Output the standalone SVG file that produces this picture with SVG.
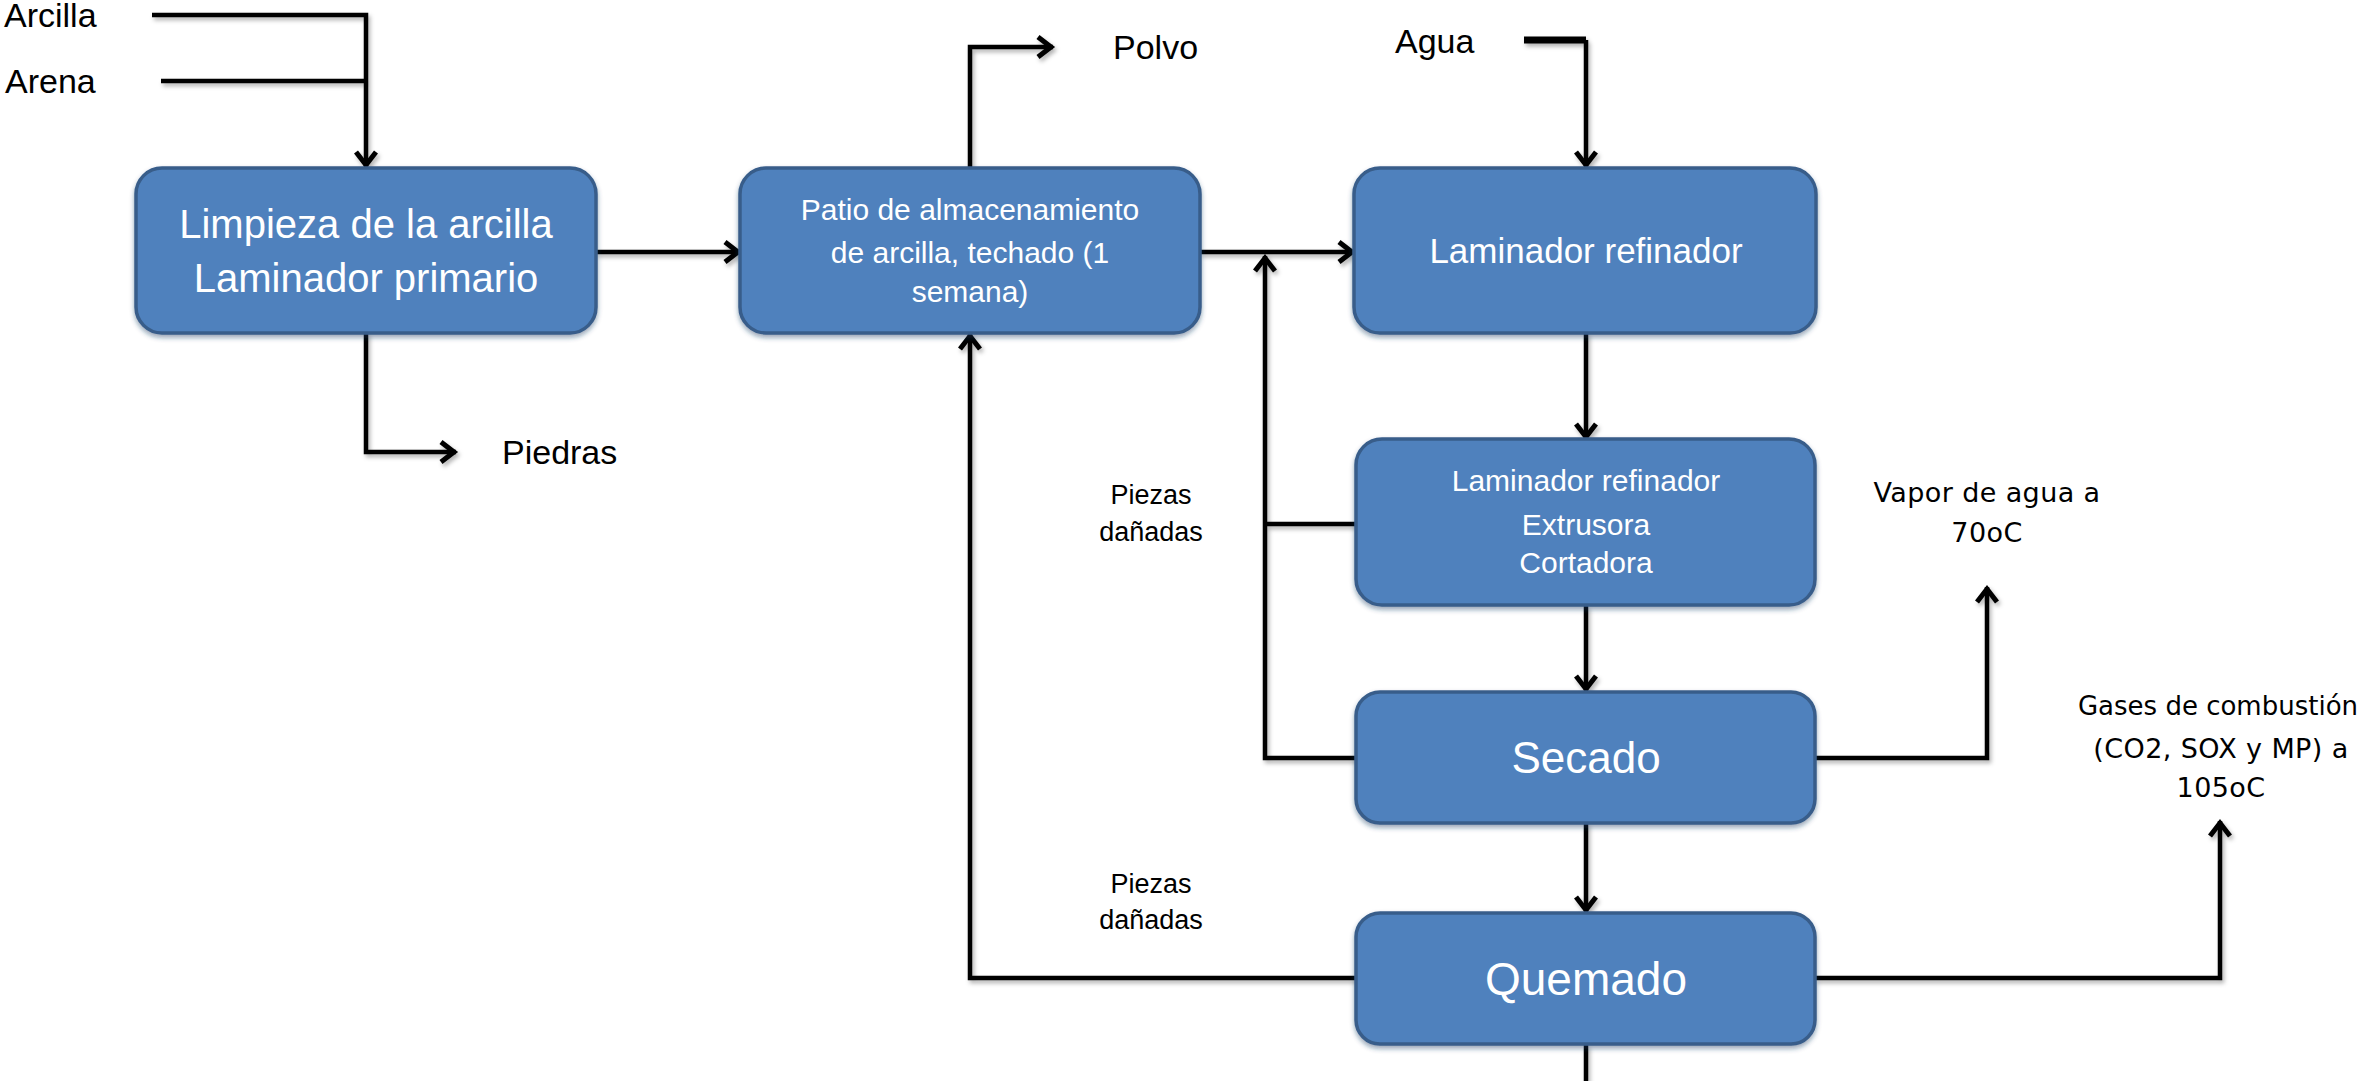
<svg xmlns="http://www.w3.org/2000/svg" width="2366" height="1081" viewBox="0 0 2366 1081">
<defs>
<style>
.box{fill:#4f81bd;stroke:#385d8a;stroke-width:3.5}
.bt{fill:#fff;font-family:"Liberation Sans",Arial,sans-serif;text-anchor:middle}
.lbl{fill:#000;font-family:"Liberation Sans",Arial,sans-serif;font-size:34px}
.lbs{fill:#000;font-family:"Liberation Sans",Arial,sans-serif;font-size:27px;text-anchor:middle}
.lbv{fill:#000;font-family:"DejaVu Sans",Verdana,sans-serif;font-size:27px;letter-spacing:0.4px;text-anchor:middle}
.ln{fill:none;stroke:#000;stroke-width:4.5;stroke-linejoin:miter}
.ar{marker-end:url(#arr)}
</style>
<marker id="arr" viewBox="0 0 24 24" refX="20" refY="12" markerWidth="24" markerHeight="24" orient="auto" markerUnits="userSpaceOnUse">
<path d="M5,2 L18,12 L5,22" fill="none" stroke="#000" stroke-width="5"/>
</marker>
<filter id="sh" x="-10%" y="-10%" width="120%" height="130%">
<feDropShadow dx="2" dy="3" stdDeviation="2" flood-color="#000" flood-opacity="0.3"/>
</filter>
<filter id="shb" x="-5%" y="-10%" width="110%" height="125%">
<feDropShadow dx="0" dy="3" stdDeviation="2.5" flood-color="#1f3a60" flood-opacity="0.45"/>
</filter>
</defs>
<rect width="2366" height="1081" fill="#fff"/>

<g id="connectors" filter="url(#sh)">
<path class="ln ar" d="M152,15 H366 V167"/>
<path class="ln" d="M161,81 H366"/>
<path class="ln ar" d="M596,252 H740"/>
<path class="ln ar" d="M366,333 V452 H456"/>
<path class="ln ar" d="M970,167 V47 H1053"/>
<path class="ln ar" d="M1200,252 H1354"/>
<path class="ln" d="M1524,40 H1586" style="stroke-width:7"/>
<path class="ln ar" d="M1586,40 V167"/>
<path class="ln ar" d="M1586,333 V439"/>
<path class="ln" d="M1356,524 H1265"/>
<path class="ln ar" d="M1356,758 H1265 V256"/>
<path class="ln ar" d="M1586,606 V691"/>
<path class="ln ar" d="M1586,823 V912"/>
<path class="ln" d="M1586,1045 V1081"/>
<path class="ln ar" d="M1356,978 H970 V334"/>
<path class="ln ar" d="M1815,758 H1987 V587"/>
<path class="ln ar" d="M1815,978 H2220 V821"/>
</g>

<g id="labels">
<text class="lbl" x="4" y="27">Arcilla</text>
<text class="lbl" x="5" y="93">Arena</text>
<text class="lbl" x="502" y="464">Piedras</text>
<text class="lbl" x="1113" y="59">Polvo</text>
<text class="lbl" x="1395" y="53">Agua</text>
<text class="lbs" x="1151" y="504">Piezas</text>
<text class="lbs" x="1151" y="541">dañadas</text>
<text class="lbs" x="1151" y="893">Piezas</text>
<text class="lbs" x="1151" y="929">dañadas</text>
<text class="lbv" x="1987" y="502">Vapor de agua a</text>
<text class="lbv" x="1987" y="542">70oC</text>
<text class="lbv" x="2218" y="715" style="font-size:26px;letter-spacing:0">Gases de combustión</text>
<text class="lbv" x="2221" y="758">(CO2, SOX y MP) a</text>
<text class="lbv" x="2221" y="797">105oC</text>
</g>

<g id="n1">
<rect class="box" x="136" y="168" width="460" height="165" rx="26" filter="url(#shb)"/>
<text class="bt" x="366" y="238" font-size="40">Limpieza de la arcilla</text>
<text class="bt" x="366" y="292" font-size="40">Laminador primario</text>
</g>
<g id="n2">
<rect class="box" x="740" y="168" width="460" height="165" rx="26" filter="url(#shb)"/>
<text class="bt" x="970" y="220" font-size="30">Patio de almacenamiento</text>
<text class="bt" x="970" y="263" font-size="30">de arcilla, techado (1</text>
<text class="bt" x="970" y="302" font-size="30">semana)</text>
</g>
<g id="n3">
<rect class="box" x="1354" y="168" width="462" height="165" rx="26" filter="url(#shb)"/>
<text class="bt" x="1586" y="263" font-size="35">Laminador refinador</text>
</g>
<g id="n4">
<rect class="box" x="1356" y="439" width="459" height="166" rx="26" filter="url(#shb)"/>
<text class="bt" x="1586" y="491" font-size="30">Laminador refinador</text>
<text class="bt" x="1586" y="535" font-size="30">Extrusora</text>
<text class="bt" x="1586" y="573" font-size="30">Cortadora</text>
</g>
<g id="n5">
<rect class="box" x="1356" y="692" width="459" height="131" rx="24" filter="url(#shb)"/>
<text class="bt" x="1586" y="773" font-size="44">Secado</text>
</g>
<g id="n6">
<rect class="box" x="1356" y="913" width="459" height="131" rx="24" filter="url(#shb)"/>
<text class="bt" x="1586" y="995" font-size="46">Quemado</text>
</g>
</svg>
